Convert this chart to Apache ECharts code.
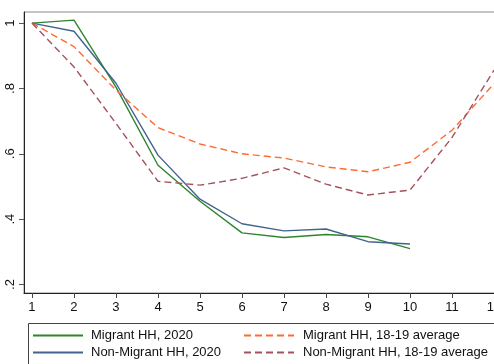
<!DOCTYPE html>
<html><head><meta charset="utf-8">
<script src="https://cdn.jsdelivr.net/npm/echarts@6/dist/echarts.min.js"></script>
<style>html,body{margin:0;padding:0;background:#fff}#c{width:494px;height:364px}</style>
</head><body><div id="c"></div>
<script>
var weeks = [1,2,3,4,5,6,7,8,9,10,11,12];
var xTicks = [1,2,3,4,5,6,7,8,9,10,11,12];
var yTicks = [0.2,0.4,0.6,0.8,1];
var yTickLabels = ['.2','.4','.6','.8','1'];
var migrant2020 = [1.0,1.009,0.804,0.565,0.455,0.358,0.344,0.353,0.346,0.310];
var nonMigrant2020 = [1.0,0.975,0.816,0.596,0.461,0.386,0.364,0.370,0.331,0.324];
var migrantAvg = [1.0,0.928,0.795,0.680,0.630,0.600,0.587,0.560,0.545,0.574,0.672,0.815];
var nonMigrantAvg = [1.0,0.866,0.693,0.516,0.504,0.525,0.557,0.507,0.474,0.489,0.650,0.856];
var names = ['Migrant HH, 2020','Non-Migrant HH, 2020','Migrant HH, 18-19 average','Non-Migrant HH, 18-19 average'];
var colors = ['#2e852e','#41648e','#ff6a33','#a4525e'];

function pairs(arr){ return arr.map(function(v,i){ return [weeks[i], v]; }); }

var chart = echarts.init(document.getElementById('c'), null, {renderer:'canvas'});
var font = 'Liberation Sans, Arial, sans-serif';
var legendBase = {orient:'vertical', top:329, padding:0, itemWidth:50, itemHeight:14, itemGap:4,
  itemStyle:{opacity:0, borderWidth:0},
  textStyle:{fontSize:13, fontFamily:font, color:'#111', padding:[0,0,0,3]}};
chart.setOption({
  animation:false,
  grid:{left:24, top:12, right:-8, bottom:71, outerBoundsMode:'none', containLabel:false,
    show:true, borderColor:'#8a8a8a', borderWidth:1, backgroundColor:'#fff'},
  xAxis:{type:'value', min:0.81, max:12.19,
    axisLine:{show:true, onZero:false, lineStyle:{color:'#222', width:1}},
    axisTick:{show:true, length:5, customValues:xTicks, lineStyle:{color:'#444'}},
    axisLabel:{customValues:xTicks, color:'#111', fontSize:13, fontFamily:font, margin:8, hideOverlap:false},
    splitLine:{show:false}},
  yAxis:{type:'value', min:0.174, max:1.034,
    axisLine:{show:true, onZero:false, lineStyle:{color:'#222', width:1}},
    axisTick:{show:true, length:5, customValues:yTicks, lineStyle:{color:'#555'}},
    axisLabel:{customValues:yTicks, rotate:90, color:'#111', fontSize:13, fontFamily:font, margin:7,
      formatter:function(v){ var i = yTicks.findIndex(function(t){return Math.abs(t-v)<1e-6;}); return i>=0?yTickLabels[i]:''; }},
    splitLine:{show:false}},
  legend:[
    Object.assign({}, legendBase, {data:[names[0],names[1]], left:32}),
    Object.assign({}, legendBase, {data:[names[2],names[3]], left:243, textStyle:Object.assign({}, legendBase.textStyle, {padding:[0,0,0,4]})})
  ],
  graphic:[{type:'rect', shape:{x:28.5, y:323.5, width:480, height:60}, style:{fill:null, stroke:'#444', lineWidth:1}, z:-1}],
  series:[
    {name:names[0], type:'line', data:pairs(migrant2020), symbol:'none', lineStyle:{color:colors[0], width:1.4}, itemStyle:{color:colors[0]}},
    {name:names[1], type:'line', data:pairs(nonMigrant2020), symbol:'none', lineStyle:{color:colors[1], width:1.4}, itemStyle:{color:colors[1]}},
    {name:names[2], type:'line', data:pairs(migrantAvg), symbol:'none', lineStyle:{color:colors[2], width:1.4, type:[7,4]}, itemStyle:{color:colors[2]}},
    {name:names[3], type:'line', data:pairs(nonMigrantAvg), symbol:'none', lineStyle:{color:colors[3], width:1.4, type:[7,4]}, itemStyle:{color:colors[3]}}
  ]
});
</script></body></html>
